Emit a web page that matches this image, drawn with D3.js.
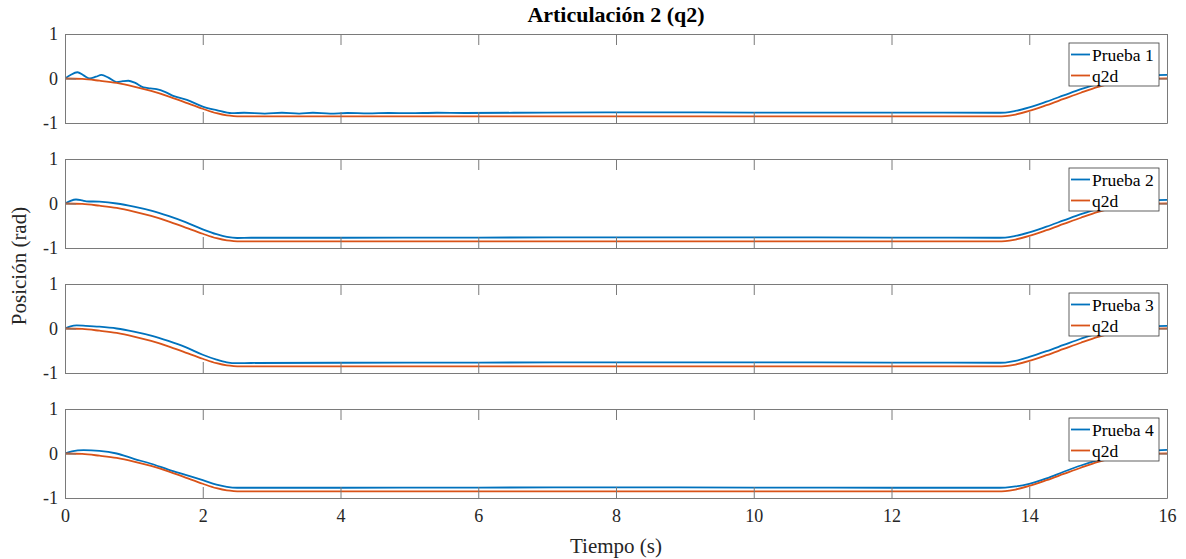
<!DOCTYPE html>
<html>
<head>
<meta charset="utf-8">
<script src="https://cdn.jsdelivr.net/npm/d3@7"></script>
<style>
  html, body { margin: 0; padding: 0; background: #fff; }
  svg { display: block; }
</style>
</head>
<body>
<svg id="chart" width="1186" height="559"></svg>
<script>
// Desired trajectory q2d (shared by all four tests)
const refTime = [0, 0.25, 0.5, 0.75, 1.0, 1.25, 1.5, 1.75, 2.0, 2.2, 2.35, 2.45, 2.55,
  13.55, 13.65, 13.8, 14.0, 14.25, 14.5, 14.75, 15.0, 15.25, 15.5, 15.75, 16];
const q2d = [0, -0.01, -0.05, -0.10, -0.18, -0.28, -0.40, -0.54, -0.68, -0.78, -0.83, -0.845, -0.85,
  -0.85, -0.845, -0.81, -0.73, -0.60, -0.46, -0.32, -0.19, -0.09, -0.03, -0.005, 0];

// Measured joint position, test 1
const prueba1Time = [0, 0.08, 0.18, 0.27, 0.36, 0.45, 0.53, 0.63, 0.75, 0.84, 0.92, 1.02, 1.14, 1.24, 1.33,
  1.45, 1.57, 1.77, 2.0, 2.2, 2.42, 2.6, 2.9, 3.15, 3.4, 3.6, 3.85, 4.1, 4.4, 4.7, 5.0, 5.4, 5.8,
  7, 8.5, 10, 12, 13.5, 13.65, 13.8, 14.0, 14.25, 14.5, 14.75, 15.0, 15.25, 15.5, 15.75, 16];
const prueba1 = [0, 0.08, 0.14, 0.07, 0.0, 0.04, 0.08, 0.02, -0.08, -0.06, -0.05, -0.10, -0.20, -0.22, -0.24,
  -0.30, -0.39, -0.48, -0.63, -0.71, -0.78, -0.77, -0.79, -0.77, -0.79, -0.77, -0.79, -0.775, -0.785, -0.775, -0.78, -0.77, -0.775,
  -0.765, -0.76, -0.765, -0.765, -0.77, -0.765, -0.73, -0.65, -0.52, -0.38, -0.24, -0.12, -0.03, 0.03, 0.07, 0.08];

// Test 2
const prueba2Time = [0, 0.08, 0.16, 0.25, 0.31, 0.5, 0.75, 1.0, 1.25, 1.5, 1.75, 2.0, 2.2, 2.35, 2.5, 2.7,
  4, 6, 8, 10, 12, 13.5, 13.65, 13.8, 14.0, 14.25, 14.5, 14.75, 15.0, 15.25, 15.5, 15.75, 16];
const prueba2 = [0, 0.06, 0.09, 0.07, 0.05, 0.04, 0.0, -0.07, -0.16, -0.28, -0.42, -0.58, -0.69, -0.75, -0.775, -0.77,
  -0.77, -0.765, -0.76, -0.76, -0.765, -0.77, -0.765, -0.73, -0.65, -0.52, -0.38, -0.24, -0.12, -0.03, 0.03, 0.07, 0.08];

// Test 3
const prueba3Time = [0, 0.08, 0.17, 0.3, 0.5, 0.75, 1.0, 1.25, 1.5, 1.75, 2.0, 2.2, 2.35, 2.5, 2.7,
  4, 6, 8, 10, 12, 13.5, 13.65, 13.8, 14.0, 14.25, 14.5, 14.75, 15.0, 15.25, 15.5, 15.75, 16];
const prueba3 = [0, 0.05, 0.07, 0.06, 0.04, 0.0, -0.07, -0.16, -0.28, -0.42, -0.59, -0.70, -0.76, -0.78, -0.775,
  -0.77, -0.765, -0.76, -0.76, -0.765, -0.77, -0.765, -0.73, -0.64, -0.51, -0.37, -0.23, -0.11, -0.03, 0.02, 0.05, 0.06];

// Test 4
const prueba4Time = [0, 0.1, 0.27, 0.5, 0.75, 1.0, 1.25, 1.5, 1.75, 2.0, 2.2, 2.35, 2.5, 2.7,
  4, 6, 8, 10, 12, 13.5, 13.65, 13.8, 14.0, 14.25, 14.5, 14.75, 15.0, 15.25, 15.5, 15.75, 16];
const prueba4 = [0, 0.05, 0.075, 0.06, 0.0, -0.12, -0.23, -0.36, -0.48, -0.60, -0.70, -0.75, -0.77, -0.77,
  -0.77, -0.765, -0.76, -0.765, -0.77, -0.77, -0.765, -0.74, -0.68, -0.56, -0.41, -0.27, -0.15, -0.05, 0.02, 0.06, 0.08];

const trialNames = ["Prueba 1", "Prueba 2", "Prueba 3", "Prueba 4"];
const trialTimes = [prueba1Time, prueba2Time, prueba3Time, prueba4Time];
const trialValues = [prueba1, prueba2, prueba3, prueba4];
const refName = "q2d";

const xTicks = [0, 2, 4, 6, 8, 10, 12, 14, 16];
const yTicks = [-1, 0, 1];

const titleText = "Articulación 2 (q2)";
const xLabelText = "Tiempo (s)";
const yLabelText = "Posición (rad)";

// Layout
const W = 1186, H = 559;
const left = 65, right = 1167;
const panelTop0 = 34, panelStep = 125, panelH = 89;
const tickLen = 11;
const blue = "#0072BD", orange = "#D95319";
const axisColor = "#7a7a7a";
const serif = "'Liberation Serif', 'Times New Roman', serif";

const svg = d3.select("#chart");

const x = d3.scaleLinear().domain([0, 16]).range([left, right]);

const pairs = (ts, vs) => ts.map((t, i) => [t, vs[i]]);
const plainNum = d => String(d);

trialNames.forEach((name, i) => {
  const top = panelTop0 + i * panelStep;
  const y = d3.scaleLinear().domain([-1, 1]).range([top + panelH, top]);
  const g = svg.append("g");

  // plot area
  g.append("rect")
    .attr("x", left).attr("y", top)
    .attr("width", right - left).attr("height", panelH)
    .attr("fill", "#fff");

  const clipId = "clip" + i;
  svg.append("clipPath").attr("id", clipId)
    .append("rect").attr("x", left).attr("y", top)
    .attr("width", right - left).attr("height", panelH);

  const line = d3.line()
    .x(d => x(d[0])).y(d => y(d[1]))
    .curve(d3.curveMonotoneX);

  const lines = g.append("g").attr("clip-path", `url(#${clipId})`);
  lines.append("path")
    .datum(pairs(trialTimes[i], trialValues[i]))
    .attr("d", line)
    .attr("fill", "none").attr("stroke", blue).attr("stroke-width", 1.8)
    .attr("stroke-linejoin", "round");
  lines.append("path")
    .datum(pairs(refTime, q2d))
    .attr("d", line)
    .attr("fill", "none").attr("stroke", orange).attr("stroke-width", 1.8)
    .attr("stroke-linejoin", "round");

  // box with inward ticks on all sides
  const isLast = i === trialNames.length - 1;
  const bottomAxis = d3.axisBottom(x).tickValues(xTicks).tickSizeInner(-tickLen).tickSizeOuter(0)
    .tickFormat(isLast ? plainNum : () => "");
  const topAxis = d3.axisTop(x).tickValues(xTicks).tickSizeInner(-tickLen).tickSizeOuter(0)
    .tickFormat(() => "");
  const leftAxis = d3.axisLeft(y).tickValues(yTicks).tickSizeInner(-tickLen).tickSizeOuter(0)
    .tickFormat(plainNum);
  const rightAxis = d3.axisRight(y).tickValues(yTicks).tickSizeInner(-tickLen).tickSizeOuter(0)
    .tickFormat(() => "");

  const styleAxis = sel => {
    sel.attr("font-family", null).attr("font-size", null);
    sel.select(".domain").attr("stroke", axisColor).attr("stroke-width", 1);
    sel.selectAll(".tick line").attr("stroke", axisColor).attr("stroke-width", 1);
    sel.selectAll(".tick text")
      .style("font-family", serif)
      .style("font-size", "18px").style("fill", "#262626");
  };

  g.append("g").attr("transform", `translate(0,${top + panelH})`).call(bottomAxis).call(styleAxis)
    .call(s => s.selectAll(".tick text").attr("y", 11).attr("dy", "0.71em"));
  g.append("g").attr("transform", `translate(0,${top})`).call(topAxis).call(styleAxis);
  g.append("g").attr("transform", `translate(${left},0)`).call(leftAxis).call(styleAxis)
    .call(s => s.selectAll(".tick text").attr("x", -7));
  g.append("g").attr("transform", `translate(${right},0)`).call(rightAxis).call(styleAxis);

  // legend
  const lgX = 1069, lgY = top + 9, lgW = 90, lgH = 43;
  const lg = g.append("g");
  lg.append("rect").attr("x", lgX).attr("y", lgY).attr("width", lgW).attr("height", lgH)
    .attr("fill", "#fff").attr("stroke", "#3a3a3a").attr("stroke-width", 0.8);
  [[name, blue], [refName, orange]].forEach(([label, col], k) => {
    const cy = lgY + 11.5 + k * 21;
    lg.append("line").attr("x1", lgX + 2).attr("x2", lgX + 21).attr("y1", cy).attr("y2", cy)
      .attr("stroke", col).attr("stroke-width", 1.8);
    lg.append("text").attr("x", lgX + 23).attr("y", cy).attr("dy", "0.35em")
      .style("font-family", serif).style("font-size", "17.5px").style("fill", "#000")
      .text(label);
  });
});

// title and axis labels
svg.append("text").attr("x", (left + right) / 2).attr("y", 22)
  .attr("text-anchor", "middle")
  .style("font-family", serif).style("font-size", "22px").style("font-weight", "bold")
  .style("fill", "#000").text(titleText);

svg.append("text").attr("x", (left + right) / 2).attr("y", 553)
  .attr("text-anchor", "middle")
  .style("font-family", serif).style("font-size", "21px").style("fill", "#262626")
  .text(xLabelText);

svg.append("text")
  .attr("transform", `translate(26,${(panelTop0 + panelTop0 + 3 * panelStep + panelH) / 2}) rotate(-90)`)
  .attr("text-anchor", "middle")
  .style("font-family", serif).style("font-size", "21px").style("fill", "#262626")
  .text(yLabelText);
</script>
</body>
</html>
